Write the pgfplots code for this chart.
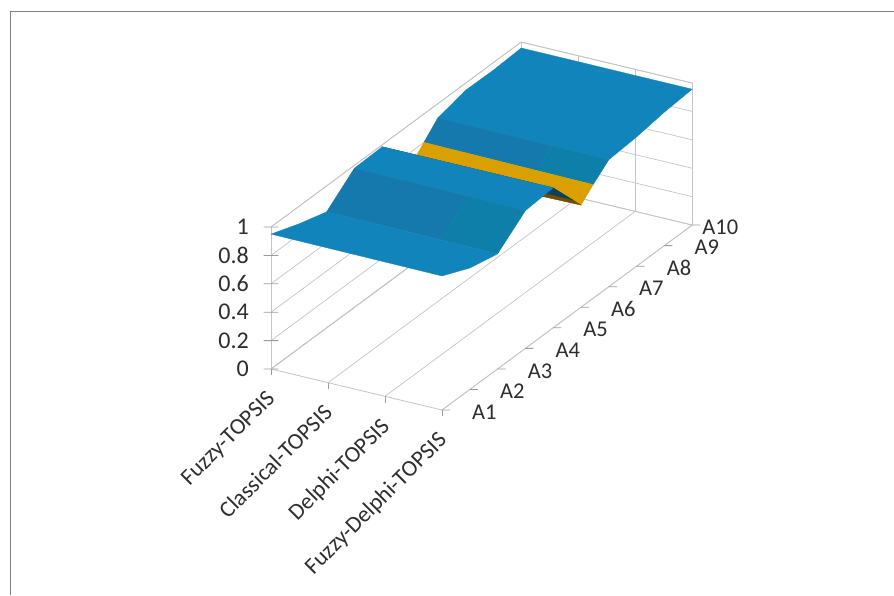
\documentclass[border=0pt]{standalone}
\usepackage{fontspec}
\setmainfont{Carlito}
\usepackage{pgfplots}
\pgfplotsset{compat=1.18}

\definecolor{gridc}{HTML}{C4C4C4}
\definecolor{tickc}{HTML}{9C9C9C}
\definecolor{txt}{HTML}{2E2E2E}
\definecolor{bandhi}{HTML}{1284BC}
\definecolor{bandmid}{HTML}{1579AE}
\definecolor{bandgreen}{HTML}{0D7FA9}
\definecolor{bandor}{HTML}{DAA000}
\definecolor{underb}{HTML}{0E3F5C}
\definecolor{undero}{HTML}{6E5000}

% one patch of the surface, filled in a single colour
\newcommand{\patch}[2]{\addplot3[fill=#1,draw=#1,line width=0.3pt,forget plot] coordinates {#2} -- cycle;}

\begin{document}
\begin{tikzpicture}[x=1pt,y=1pt]
\path[use as bounding box] (0,0) rectangle (894,595);
\draw[color=black!50,line width=1pt] (10,0) -- (10,583) -- (894,583);
\begin{axis}[
  at={(271pt,226pt)}, anchor=origin,
  x={(57pt,-13.67pt)}, y={(27.8pt,20.55pt)}, z={(0pt,142pt)},
  xmin=0, xmax=3, ymin=0, ymax=9, zmin=0, zmax=1,
  clip=false,
  xtick={0,1,2,3},
  xticklabels={Fuzzy-TOPSIS,Classical-TOPSIS,Delphi-TOPSIS,Fuzzy-Delphi-TOPSIS},
  ytick={0,...,9},
  yticklabels={A1,A2,A3,A4,A5,A6,A7,A8,A9,\hspace*{-20pt}A10},
  ztick={0,0.2,0.4,0.6,0.8,1},
  xmajorgrids, zmajorgrids,
  major grid style={gridc,line width=0.7pt},
  axis line style={gridc,line width=0.8pt},
  tick style={draw=none},
  major tick length=0pt,
  tick label style={font=\fontsize{22.5}{26}\selectfont,text=txt},
  /pgf/number format/assume math mode=true,
  xticklabel style={font=\fontsize{23}{27}\selectfont,rotate=45,anchor=north east,inner sep=0pt,xshift=-18pt,yshift=-10pt},
  yticklabel style={anchor=west,inner sep=0pt,xshift=30pt,yshift=-2pt},
  zticklabel style={font=\fontsize{24}{28}\selectfont,anchor=east,inner sep=0pt,xshift=-22pt},
]
% tick marks on the three axes
\pgfplotsinvokeforeach{0,1,2,3}{\addplot3[tickc,line width=0.8pt,forget plot] coordinates {(#1,0,0)(#1,0,-0.045)};}
\pgfplotsinvokeforeach{0,...,9}{\addplot3[tickc,line width=0.8pt,forget plot] coordinates {(3,#1,0)(3.14,#1,0.0135)};}
\pgfplotsinvokeforeach{0,0.2,0.4,0.6,0.8,1}{\addplot3[tickc,line width=0.8pt,forget plot] coordinates {(-0.13,0,#1-0.0125)(0.13,0,#1+0.0125)};}
% surface, back to front along the A axis
\patch{bandhi}{(0,6,.90)(1,6,.898)(2,6,.896)(3,6,.894)(3,7,.91)(3,8,.94)(3,9,.957)(2,9,.957)(1,9,.958)(0,9,.958)(0,8,.947)(0,7,.95)}
\patch{bandmid}{(0,5.5,.8)(1,5.48,.8)(2,5.46,.8)(2,6,.896)(1,6,.898)(0,6,.90)}
\patch{bandgreen}{(2,5.46,.8)(3,5.44,.8)(3,6,.894)(2,6,.896)}
\patch{bandor}{(0,5,.70)(3,5,.72)(3,5.44,.8)(2,5.46,.8)(1,5.48,.8)(0,5.5,.8)}
\patch{undero}{(0,4.7,.8)(3,4.7,.8)(3,5,.72)(0,5,.70)}
\patch{underb}{(0,4,.986)(3,4,.986)(3,4.7,.8)(0,4.7,.8)}
\patch{bandhi}{(0,3,.98)(1,3,.978)(2,3,.974)(3,3,.97)(3,4,.986)(0,4,.986)}
\patch{bandmid}{(0,2,.817)(1,2,.815)(2,2,.812)(2,3,.974)(1,3,.978)(0,3,.98)}
\patch{bandgreen}{(2,2,.812)(3,2,.81)(3,3,.97)(2,3,.974)}
\patch{bandhi}{(0,0,.95)(1,0,.948)(2,0,.946)(3,0,.944)(3,1,.855)(3,2,.81)(2,2,.812)(1,2,.815)(0,2,.817)(0,1,.877)}
\end{axis}
\end{tikzpicture}
\end{document}
